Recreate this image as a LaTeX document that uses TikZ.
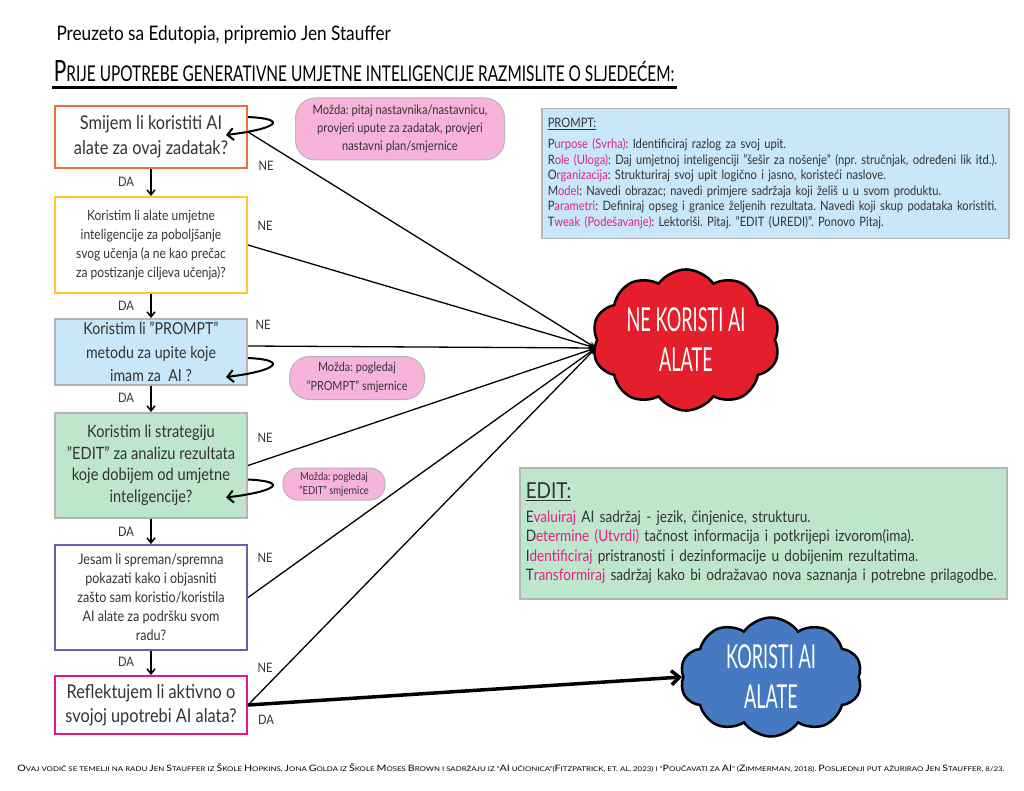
\documentclass[tikz,border=0pt]{standalone}
\usepackage{fontspec}
\setmainfont{Lato}[FakeStretch=0.86]
\newfontfamily\handfont{Lato}[FakeStretch=0.55]
\usetikzlibrary{arrows.meta, shapes.symbols, positioning}
\definecolor{txtgray}{HTML}{333333}
\definecolor{edgeOrange}{HTML}{F26B3A}
\definecolor{edgeYellow}{HTML}{FFC72C}
\definecolor{edgePurple}{HTML}{6661AA}
\definecolor{edgeMagenta}{HTML}{E6198A}
\definecolor{edgeGray}{HTML}{B5B5B5}
\definecolor{fillBlue}{HTML}{C8E7F8}
\definecolor{fillGreen}{HTML}{BEE6CA}
\definecolor{fillPink}{HTML}{F7B3DA}
\definecolor{hlpink}{HTML}{E0218A}
\definecolor{noRed}{HTML}{E41E2B}
\definecolor{yesBlue}{HTML}{4579C2}
\newcommand\fsz[2]{\fontsize{#1}{#2}\selectfont}
\newcommand\lowcap[1]{{\fontsize{7.4}{9}\selectfont\MakeUppercase{#1}}}
\newcommand\hl[1]{\textcolor{hlpink}{#1}}
\frenchspacing
\begin{document}
\begin{tikzpicture}[x=1pt, y=-1pt,
    qbox/.style={rectangle, minimum width=192pt, line width=2pt, align=center, text=txtgray, inner sep=2pt},
    note/.style={rectangle, rounded corners=20pt, draw=edgeGray, line width=1pt, fill=fillPink, align=center, text=txtgray, inner sep=2pt},
    infobox/.style={rectangle, draw=edgeGray, line width=1.5pt, anchor=north west, align=left, text=txtgray},
    lbl/.style={text=txtgray, font=\fsz{13}{15}, inner sep=1pt},
    endcloud/.style={cloud, cloud puffs=10, cloud puff arc=110, aspect=1.5, draw=black, line width=2.5pt, text=white, align=center, font=\handfont\fsz{33}{40}},
    daarrow/.style={line width=1.5pt, -{Straight Barb[length=5pt, width=8pt]}},
    neline/.style={line width=1.3pt, -{Stealth[length=7pt, width=6pt]}},
    loopy/.style={line width=2pt, -{Straight Barb[length=6pt, width=12pt]}}]
    \useasboundingbox[fill=white] (0,0) rectangle (1024,791);
    % header and title
    \node[anchor=west, text=black, font=\fsz{20}{24}] (credit) at (53,35) {Preuzeto sa Edutopia, pripremio Jen Stauffer};
    \node[text=black, inner sep=0pt] (title) at (364,71) {\resizebox{620pt}{21pt}{\handfont P\lowcap{rije upotrebe generativne umjetne inteligencije razmislite o sljedećem:}}};
    \draw[line width=3pt] (52,88) -- (677,88);
    % question boxes
    \node[qbox, draw=edgeOrange, minimum height=62pt, font=\fsz{19}{25}] (boxA) at (151,137) {Smijem li koristiti AI\\alate za ovaj zadatak?};
    \node[qbox, draw=edgeYellow, minimum height=96pt, font=\fsz{14}{19}] (boxB) at (151,245) {Koristim li alate umjetne\\inteligencije za poboljšanje\\svog učenja (a ne kao prečac\\za postizanje ciljeva učenja)?};
    \node[qbox, draw=edgeGray, fill=fillBlue, minimum height=66pt, font=\fsz{16.5}{23.5}] (boxC) at (151,352) {Koristim li "PROMPT"\\metodu za upite koje\\imam za~ AI ?};
    \node[qbox, draw=edgeGray, fill=fillGreen, minimum height=105pt, font=\fsz{17}{21.5}] (boxD) at (151,465.5) {Koristim li strategiju\\"EDIT" za analizu rezultata\\koje dobijem od umjetne\\inteligencije?};
    \node[qbox, draw=edgePurple, minimum height=105pt, font=\fsz{14.6}{19}] (boxE) at (151,597.5) {Jesam li spreman/spremna\\pokazati kako i objasniti\\zašto sam koristio/koristila\\AI alate za podršku svom\\radu?};
    \node[qbox, draw=edgeMagenta, minimum height=58pt, font=\fsz{19}{24}] (boxF) at (151,705) {Reflektujem li aktivno o\\svojoj upotrebi AI alata?};
    % DA arrows down
    \draw[daarrow] (boxA) -- (boxB);
    \draw[daarrow] (boxB) -- (boxC);
    \draw[daarrow] (boxC) -- (boxD);
    \draw[daarrow] (boxD) -- (boxE);
    \draw[daarrow] (boxE) -- (boxF);
    \node[lbl] (daA) at (126,182) {DA};
    \node[lbl] (daB) at (126,306) {DA};
    \node[lbl] (daC) at (126,398) {DA};
    \node[lbl] (daD) at (126,532) {DA};
    \node[lbl] (daE) at (126,662) {DA};
    % end clouds
    \node[endcloud, fill=noRed, minimum width=178pt, minimum height=120pt] (cloudNe) at (686,340) {NE KORISTI AI\\ALATE};
    \node[endcloud, fill=yesBlue, minimum width=182pt, minimum height=118pt] (cloudDa) at (771,677) {KORISTI AI\\ALATE};
    % NE lines
    \draw[neline] ([yshift=5pt]boxA.east) -- ([yshift=-8pt]cloudNe.west);
    \draw[neline] (boxB.east) -- ([yshift=-8pt]cloudNe.west);
    \draw[neline] ([yshift=6pt]boxC.east) -- ([yshift=-8pt]cloudNe.west);
    \draw[neline] (boxD.east) -- ([yshift=-8pt]cloudNe.west);
    \draw[neline] (boxE.east) -- ([yshift=-8pt]cloudNe.west);
    \draw[neline] (boxF.east) -- ([yshift=-8pt]cloudNe.west);
    \node[lbl] (neA) at (266,166) {NE};
    \node[lbl] (neB) at (265,226) {NE};
    \node[lbl] (neC) at (263,325) {NE};
    \node[lbl] (neD) at (265,438) {NE};
    \node[lbl] (neE) at (265,558) {NE};
    \node[lbl] (neF) at (265,668) {NE};
    % DA to the blue cloud
    \draw[line width=3.5pt, -{Straight Barb[length=8pt, width=14pt]}] (boxF.east) -- (cloudDa.west);
    \node[lbl] (daF) at (266,720) {DA};
    % loops back into the boxes
    \draw[loopy] ([yshift=20pt]boxA.east) .. controls +(42,2) and +(50,-6) .. ([xshift=-22pt, yshift=2pt]boxA.east);
    \draw[loopy] ([yshift=-6pt]boxC.east) .. controls +(42,2) and +(50,-6) .. ([xshift=-22pt, yshift=-25pt]boxC.east);
    \draw[loopy] ([yshift=-14pt]boxD.east) .. controls +(42,2) and +(50,-6) .. ([xshift=-22pt, yshift=-32pt]boxD.east);
    % hint notes
    \node[note, minimum width=209pt, minimum height=62pt, font=\fsz{13}{18}] (noteA) at (400,129) {Možda: pitaj nastavnika/nastavnicu,\\provjeri upute za zadatak, provjeri\\nastavni plan/smjernice};
    \node[note, minimum width=135pt, minimum height=43pt, font=\fsz{12.6}{19}] (noteC) at (357,378) {Možda: pogledaj\\"PROMPT" smjernice};
    \node[note, rounded corners=15pt, minimum width=102pt, minimum height=32pt, font=\fsz{11}{14}] (noteD) at (334,484) {Možda: pogledaj\\"EDIT" smjernice};
    % PROMPT box
    \node[infobox, fill=fillBlue, minimum width=467pt, minimum height=130pt, text width=455pt, inner sep=6pt, font=\fsz{13}{15.6}] (promptBox) at (541,108) {\underline{PROMPT:}\\[5pt]
    P\hl{urpose (Svrha)}: Identificiraj razlog za svoj upit.\\
    R\hl{ole (Uloga)}: Daj umjetnoj inteligenciji "šešir za nošenje" (npr. stručnjak, određeni lik itd.).\\
    O\hl{rganizacija}: Strukturiraj svoj upit logično i jasno, koristeći naslove.\\
    M\hl{odel}: Navedi obrazac; navedi primjere sadržaja koji želiš u u svom produktu.\\
    P\hl{arametri}: Definiraj opseg i granice željenih rezultata. Navedi koji skup podataka koristiti.\\
    T\hl{weak (Podešavanje)}: Lektoriši. Pitaj. "EDIT (UREDI)". Ponovo Pitaj.};
    % EDIT box
    \node[infobox, fill=fillGreen, minimum width=487pt, minimum height=131pt, text width=475pt, inner sep=6pt, font=\fsz{15.8}{19.5}] (editBox) at (519,467) {{\fsz{22}{26}\underline{EDIT:}}\\[4pt]
    E\hl{valuiraj} AI sadržaj - jezik, činjenice, strukturu.\\
    D\hl{etermine (Utvrdi)} tačnost informacija i potkrijepi izvorom(ima).\\
    I\hl{dentificiraj} pristranosti i dezinformacije u dobijenim rezultatima.\\
    T\hl{ransformiraj} sadržaj kako bi odražavao nova saznanja i potrebne prilagodbe.};
    % footer
    \node[text=black, inner sep=0pt] (footer) at (511,768) {\resizebox{987pt}{8pt}{\handfont O\lowcap{vaj vodič se temelji na radu }J\lowcap{en }S\lowcap{tauffer iz }Š\lowcap{kole }H\lowcap{opkins, }J\lowcap{ona }G\lowcap{olda iz }Š\lowcap{kole }M\lowcap{oses }B\lowcap{rown i sadržaju iz “}AI\lowcap{ učionica”(}F\lowcap{itzpatrick, et. al, 2023) i “}P\lowcap{oučavati za }AI\lowcap{” (}Z\lowcap{immerman, 2018). }P\lowcap{osljednji put ažurirao }J\lowcap{en }S\lowcap{tauffer, 8/23.}}};
\end{tikzpicture}
\end{document}
